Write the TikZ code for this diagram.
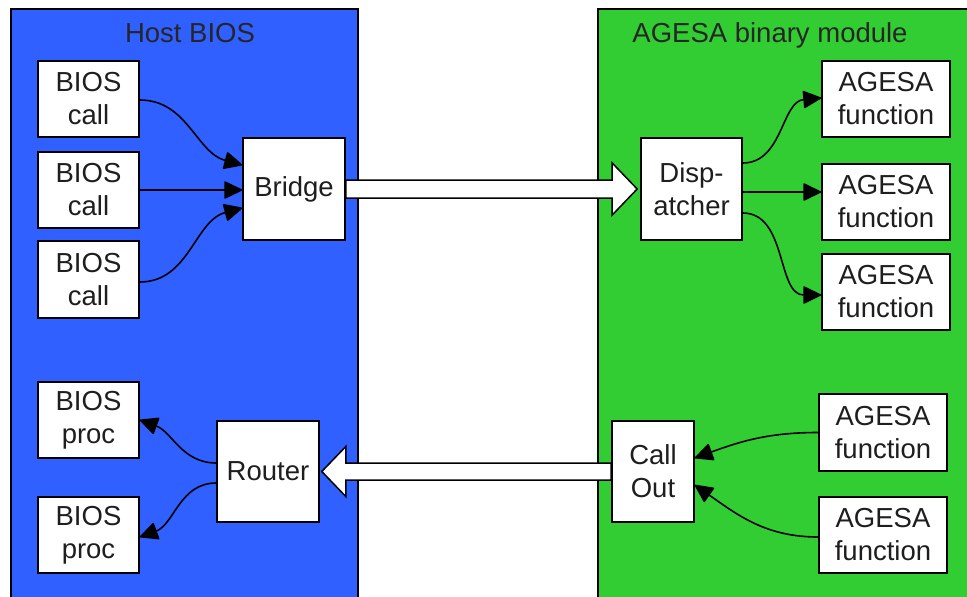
\documentclass[tikz,border=0pt]{standalone}
\usepackage{fontspec}
\setmainfont{Liberation Sans}
\usetikzlibrary{arrows.meta,calc}
\definecolor{hostblue}{RGB}{48,96,255}
\definecolor{agesagreen}{RGB}{50,205,50}
\definecolor{txt}{RGB}{30,30,30}
\begin{document}
\begin{tikzpicture}[x=1pt,y=1pt,
  box/.style={draw=black,fill=white,line width=1.6pt,inner sep=0pt,align=center,
    text=txt,font=\fontsize{27.5}{33}\selectfont},
  panel/.style={line width=2.2pt,draw=black},
  title/.style={anchor=base,text=black!85,font=\fontsize{27.5}{33}\selectfont},
  conn/.style={line width=1.6pt,-{Triangle[length=19pt,width=18pt,round]}},
  bigarrow/.style={draw=black,fill=white,line width=1.5pt,line join=miter}]
\useasboundingbox (0,0) rectangle (967,-597);
% panels
\fill[hostblue] (11,-9) rectangle (358,-600);
\draw[panel] (11,-600) -- (11,-9) -- (358,-9) -- (358,-600);
\fill[agesagreen] (598,-9) rectangle (970,-600);
\draw[panel] (598,-600) -- (598,-9) -- (970,-9);
\node[title] (thost) at (190,-42) {Host BIOS};
\node[title] (tagesa) at (770,-42) {AGESA binary module};
% host nodes
\node[box,minimum width=101pt,minimum height=76pt] (call1) at (88.5,-99) {BIOS\\call};
\node[box,minimum width=101pt,minimum height=76pt] (call2) at (88.5,-190) {BIOS\\call};
\node[box,minimum width=101pt,minimum height=77pt] (call3) at (88.5,-279.5) {BIOS\\call};
\node[box,minimum width=102pt,minimum height=102pt] (bridge) at (294,-189) {Bridge};
\node[box,minimum width=101pt,minimum height=76pt] (proc1) at (88.5,-420) {BIOS\\proc};
\node[box,minimum width=101pt,minimum height=76pt] (proc2) at (88.5,-535) {BIOS\\proc};
\node[box,minimum width=102pt,minimum height=101pt] (router) at (268,-471.5) {Router};
% agesa nodes
\node[box,minimum width=101pt,minimum height=102pt] (disp) at (691.5,-189) {Disp-\\atcher};
\node[box,minimum width=128pt,minimum height=76pt] (f1) at (886,-99) {AGESA\\function};
\node[box,minimum width=128pt,minimum height=76pt] (f2) at (886,-202) {AGESA\\function};
\node[box,minimum width=128pt,minimum height=76pt] (f3) at (886,-292) {AGESA\\function};
\node[box,minimum width=82pt,minimum height=101pt] (callout) at (653,-471.5) {Call\\Out};
\node[box,minimum width=128pt,minimum height=77pt] (f4) at (883,-432.5) {AGESA\\function};
\node[box,minimum width=128pt,minimum height=76pt] (f5) at (883,-535) {AGESA\\function};
% big arrows
\draw[bigarrow] ([yshift=9pt]bridge.east) -- ([xshift=-28pt,yshift=9pt]disp.west)
  -- ([xshift=-28pt,yshift=26pt]disp.west) -- ([xshift=-3pt]disp.west)
  -- ([xshift=-28pt,yshift=-26pt]disp.west) -- ([xshift=-28pt,yshift=-9pt]disp.west)
  -- ([yshift=-9pt]bridge.east) -- cycle;
\draw[bigarrow] ([yshift=8.5pt]callout.west) -- ([xshift=26pt,yshift=8.5pt]router.east)
  -- ([xshift=26pt,yshift=25pt]router.east) -- ([xshift=2pt]router.east)
  -- ([xshift=26pt,yshift=-25pt]router.east) -- ([xshift=26pt,yshift=-8.5pt]router.east)
  -- ([yshift=-8.5pt]callout.west) -- cycle;
% host connectors
\draw[conn] ([yshift=-1pt]call1.east) to[out=0,in=165] ([yshift=24pt]bridge.west);
\draw[conn] (call2.east) to[out=0,in=180] ([yshift=-1pt]bridge.west);
\draw[conn] ([yshift=-2.5pt]call3.east) to[out=0,in=195] ([yshift=-19pt]bridge.west);
\draw[conn] ([yshift=8.5pt]router.west) to[out=180,in=-20] (proc1.east);
\draw[conn] ([yshift=-11.5pt]router.west) to[out=180,in=20] ([yshift=-2pt]proc2.east);
% agesa connectors
\draw[conn] ([yshift=26pt]disp.east) to[out=0,in=185] ([yshift=1pt]f1.west);
\draw[conn] ([yshift=-3pt]disp.east) to[out=0,in=180] ([yshift=10pt]f2.west);
\draw[conn] ([yshift=-24pt]disp.east) to[out=0,in=180] ([yshift=-3pt]f3.west);
\draw[conn] (f4.west) to[out=180,in=20] ([yshift=13.5pt]callout.east);
\draw[conn] ([yshift=-2pt]f5.west) to[out=180,in=-35] ([yshift=-13.5pt]callout.east);
\end{tikzpicture}
\end{document}
